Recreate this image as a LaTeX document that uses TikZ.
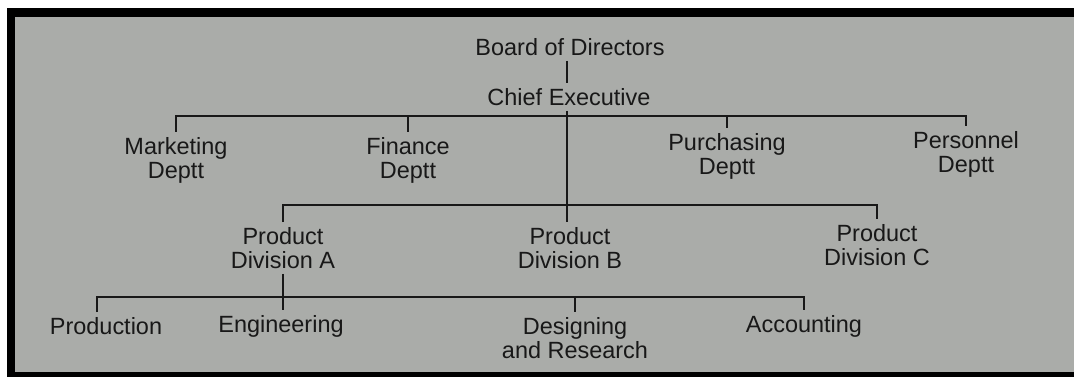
\documentclass[tikz,border=0pt]{standalone}
\usepackage{fontspec}
\setmainfont{Liberation Sans}
\definecolor{paper}{RGB}{170,172,169}
\definecolor{ink}{RGB}{24,24,24}
\begin{document}
\begin{tikzpicture}[x=0.75pt,y=-0.75pt,
  lbl/.style={font=\fontsize{17.6}{18}\selectfont, text=ink, align=center, inner sep=0pt, outer sep=4pt},
  wire/.style={draw=ink, line width=2.1pt}]
\useasboundingbox (0,0) rectangle (1074,377);
\fill[white] (0,0) rectangle (1074,377);
\fill[paper] (15,17) rectangle (1074,372);
\fill[black] (7,8) rectangle (1074,17);
\fill[black] (7,8) rectangle (15,377);
\fill[black] (7,372) rectangle (1074,377);

\node[lbl] (bod) at (570,47) {Board of Directors};
\node[lbl] (ce) at (569,97) {Chief Executive};
\node[lbl] (mkt) at (176,160) {Marketing\\Deptt};
\node[lbl] (fin) at (408,160) {Finance\\Deptt};
\node[lbl] (pur) at (727,156) {Purchasing\\Deptt};
\node[lbl] (per) at (966,154) {Personnel\\Deptt};
\node[lbl] (pa) at (283,248) {Product\\Division A};
\node[lbl] (pb) at (570,248) {Product\\Division B};
\node[lbl] (pc) at (877,245) {Product\\Division C};
\node[lbl] (prod) at (106,326) {Production};
\node[lbl] (eng) at (281,326) {Engineering};
\node[lbl] (des) at (575,338) {Designing\\and Research};
\node[lbl] (acc) at (804,326) {Accounting};

\coordinate (j1) at (567,116);
\coordinate (j2) at (567,205);
\coordinate (j3) at (283,297);
\coordinate (ptk) at (97,0);
\coordinate (bk) at (567,0);

\draw[wire] (bk |- bod.south) -- (bk |- ce.north);
\draw[wire] (bk |- ce.south) -- (bk |- pb.north);
\draw[wire] (mkt.north) |- (j1) -| (per.north);
\draw[wire] (fin.north |- j1) -- (fin.north);
\draw[wire] (pur.north |- j1) -- (pur.north);
\draw[wire] (pa.north) |- (j2) -| (pc.north);
\draw[wire] (pa.south) -- (pa.south |- eng.north);
\draw[wire] (ptk |- prod.north) |- (j3) -| (acc.north);
\draw[wire] (des.north |- j3) -- (des.north);
\end{tikzpicture}
\end{document}
